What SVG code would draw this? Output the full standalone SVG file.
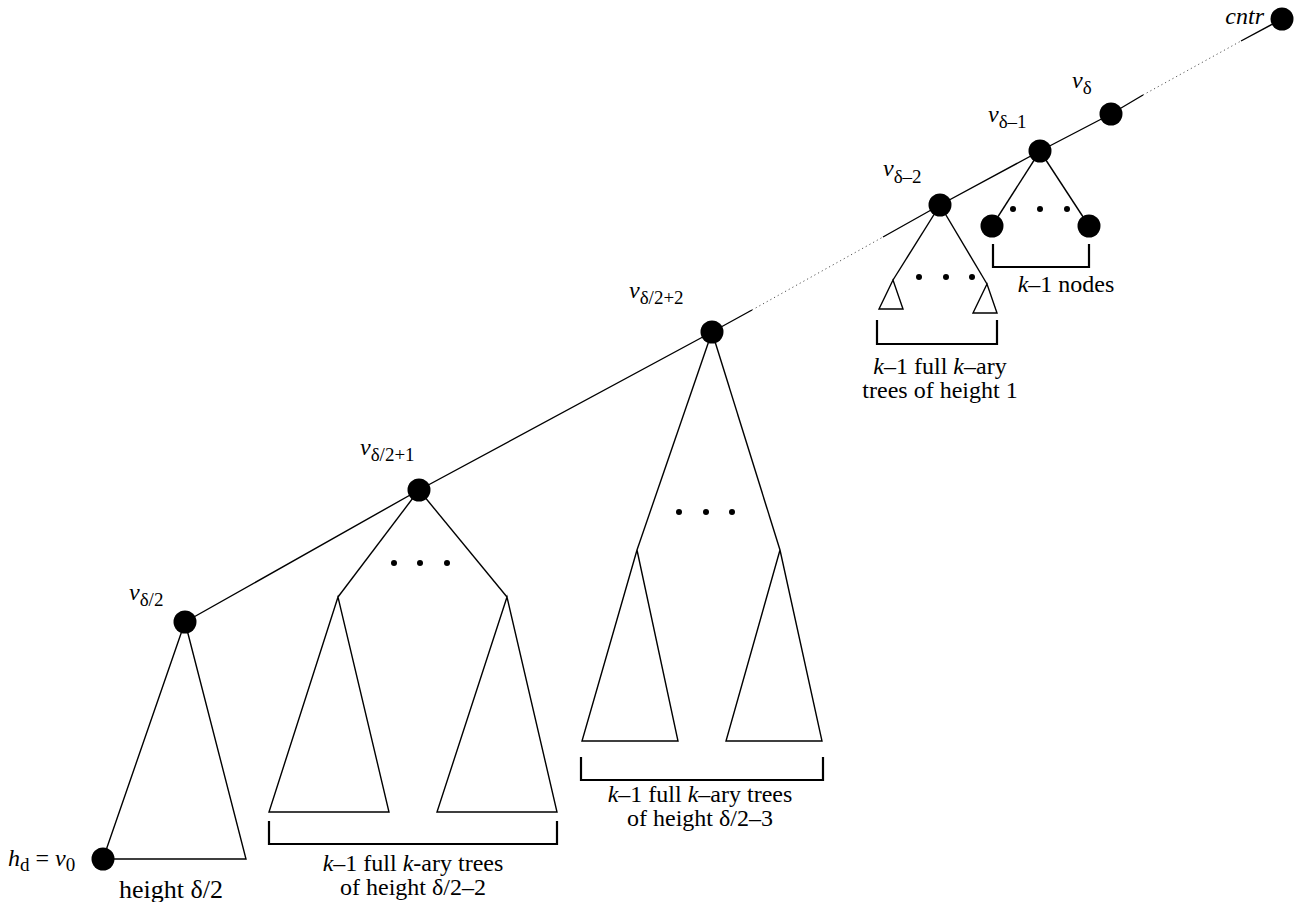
<svg xmlns="http://www.w3.org/2000/svg" width="1294" height="902" viewBox="0 0 1294 902">
<style>
.ln{fill:none;stroke:#000;stroke-width:1.4;stroke-linejoin:miter}
.dot{fill:none;stroke:#555;stroke-width:1;stroke-dasharray:1.2 3}
.br{fill:none;stroke:#000;stroke-width:2.2}
.nd{fill:#000}
.sd{fill:#000}
text{font-family:"Liberation Serif","Times New Roman",serif;font-size:24px;fill:#000}
.it{font-style:italic}
.sub{font-size:19px}
.mid{text-anchor:middle}
</style>
<rect width="1294" height="902" fill="#fff"/>
<g id="connectors">
<polyline class="ln" points="185,622 419,490 712,332 752,310"/>
<line class="dot" x1="752" y1="310" x2="883" y2="237"/>
<polyline class="ln" points="883,237 940,205 1040,151 1111,114 1143,95"/>
<line class="dot" x1="1143" y1="95" x2="1241" y2="41"/>
<line class="ln" x1="1241" y1="41" x2="1282" y2="19"/>
<line class="ln" x1="1040" y1="151" x2="992" y2="226"/>
<line class="ln" x1="1040" y1="151" x2="1089" y2="226"/>
<line class="ln" x1="940" y1="205" x2="893" y2="280"/>
<line class="ln" x1="940" y1="205" x2="987" y2="284"/>
<line class="ln" x1="712" y1="332" x2="637" y2="550"/>
<line class="ln" x1="712" y1="332" x2="780" y2="550"/>
<line class="ln" x1="419" y1="490" x2="338" y2="597"/>
<line class="ln" x1="419" y1="490" x2="507" y2="597"/>
</g>
<g id="subtree-v0">
<polygon class="ln" points="185,622 103,859 246,859"/>
<text class="mid" x="171" y="898" style="font-size:26px">height δ/2</text>
</g>
<g id="subtrees-d2-2">
<polygon class="ln" points="338,597 269,812 389,812"/>
<polygon class="ln" points="507,597 437,812 557,812"/>
<circle class="sd" cx="394" cy="563" r="3"/>
<circle class="sd" cx="420" cy="563" r="3"/>
<circle class="sd" cx="447" cy="563" r="3"/>
<polyline class="br" points="269,821 269,844 557,844 557,821"/>
<text class="mid" x="413" y="871"><tspan class="it">k</tspan>–1 full <tspan class="it">k</tspan>-ary trees</text>
<text class="mid" x="413" y="895">of height δ/2–2</text>
</g>
<g id="subtrees-d2-3">
<polygon class="ln" points="637,550 582,741 678,741"/>
<polygon class="ln" points="780,550 726,741 822,741"/>
<circle class="sd" cx="679" cy="512" r="3"/>
<circle class="sd" cx="706" cy="512" r="3"/>
<circle class="sd" cx="732" cy="512" r="3"/>
<polyline class="br" points="581,757 581,780 823,780 823,757"/>
<text class="mid" x="700" y="802"><tspan class="it">k</tspan>–1 full <tspan class="it">k</tspan>–ary trees</text>
<text class="mid" x="700" y="826">of height δ/2–3</text>
</g>
<g id="subtrees-h1">
<polygon class="ln" points="893,280 879,309 903,309"/>
<polygon class="ln" points="987,284 973,313 997,313"/>
<circle class="sd" cx="919" cy="277" r="3"/>
<circle class="sd" cx="946" cy="277" r="3"/>
<circle class="sd" cx="972" cy="277" r="3"/>
<polyline class="br" points="877,320 877,344 997,344 997,320"/>
<text class="mid" x="940" y="374"><tspan class="it">k</tspan>–1 full <tspan class="it">k</tspan>–ary</text>
<text class="mid" x="940" y="398">trees of height 1</text>
</g>
<g id="leaves-d-1">
<circle class="sd" cx="1013" cy="209" r="3"/>
<circle class="sd" cx="1040" cy="209" r="3"/>
<circle class="sd" cx="1067" cy="209" r="3"/>
<polyline class="br" points="993,244 993,267 1089,267 1089,244"/>
<text class="mid" x="1066" y="292"><tspan class="it">k</tspan>–1 nodes</text>
</g>
<g id="node-v0">
<circle class="nd" cx="103" cy="859" r="11.5"/>
<text x="8" y="866"><tspan class="it">h</tspan><tspan class="sub" dy="5">d</tspan><tspan dy="-5"> = </tspan><tspan class="it">v</tspan><tspan class="sub" dy="5">0</tspan></text>
</g>
<g id="node-vd2">
<circle class="nd" cx="185" cy="622" r="11.5"/>
<text x="129" y="600"><tspan class="it">v</tspan><tspan class="sub" dy="6">δ/2</tspan></text>
</g>
<g id="node-vd2p1">
<circle class="nd" cx="419" cy="490" r="11.5"/>
<text x="360" y="455"><tspan class="it">v</tspan><tspan class="sub" dy="6">δ/2+1</tspan></text>
</g>
<g id="node-vd2p2">
<circle class="nd" cx="712" cy="332" r="11.5"/>
<text x="629" y="298"><tspan class="it">v</tspan><tspan class="sub" dy="6">δ/2+2</tspan></text>
</g>
<g id="node-vdm2">
<circle class="nd" cx="940" cy="205" r="11.5"/>
<text x="883" y="176"><tspan class="it">v</tspan><tspan class="sub" dy="7">δ–2</tspan></text>
</g>
<g id="node-vdm1">
<circle class="nd" cx="1040" cy="151" r="11.5"/>
<text x="988" y="122"><tspan class="it">v</tspan><tspan class="sub" dy="6">δ–1</tspan></text>
</g>
<g id="node-leaf-left">
<circle class="nd" cx="992" cy="226" r="11.5"/>
</g>
<g id="node-leaf-right">
<circle class="nd" cx="1089" cy="226" r="11.5"/>
</g>
<g id="node-vd">
<circle class="nd" cx="1111" cy="114" r="11.5"/>
<text x="1072" y="88"><tspan class="it">v</tspan><tspan class="sub" dy="6">δ</tspan></text>
</g>
<g id="node-cntr">
<circle class="nd" cx="1282" cy="19" r="11.5"/>
<text class="it" x="1264" y="24" text-anchor="end">cntr</text>
</g>
</svg>
